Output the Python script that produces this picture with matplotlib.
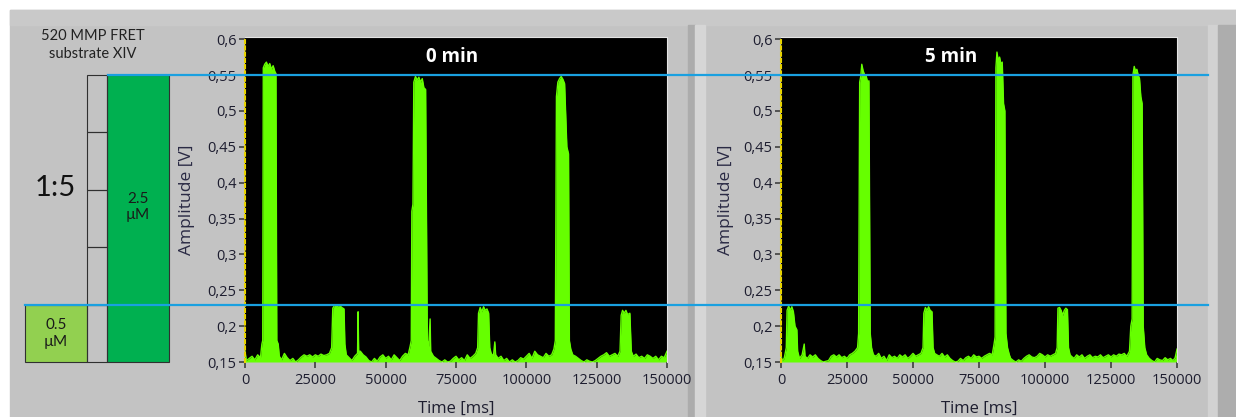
# FRET-signaal bij 0 en 5 minuten, met schema van de concentraties links

import matplotlib.pyplot as plt
from matplotlib.patches import Rectangle
from matplotlib.lines import Line2D
from matplotlib.transforms import blended_transform_factory

# Gegevens
panel_titles = ['0 min', '5 min']

t_0min = [0, 500, 1500, 2500, 3500, 4500, 5500, 6000, 6300, 6500, 7000, 7600, 8200, 8800, 9400,
          10000, 10600, 11000, 11300, 11800, 12200, 13000, 14000, 15000, 16000, 17000, 18000,
          19000, 20000, 21000, 22000, 23000, 24000, 25000, 26000, 27000, 28000, 29000, 30000,
          30800, 31200, 32000, 32800, 33600, 34400, 35200, 35500, 36000, 37000, 38000, 39000,
          40000, 40200, 40400, 41000, 42000, 43000, 44000, 45000, 46000, 47000, 48000, 49000,
          50000, 51000, 52000, 53000, 54000, 55000, 56000, 57000, 58000, 58700, 59100, 59300,
          59700, 60000, 60600, 61200, 61800, 62400, 63000, 63600, 64200, 64500, 64800, 65300,
          65800, 66000, 67000, 68000, 69000, 70000, 71000, 72000, 73000, 74000, 75000, 76000,
          77000, 78000, 79000, 80000, 81000, 82000, 82700, 83000, 83600, 84200, 84800, 85400,
          86000, 86600, 87000, 87500, 88300, 88800, 89100, 90000, 91000, 92000, 93000, 94000,
          95000, 96000, 97000, 98000, 99000, 100000, 101000, 102000, 103000, 104000, 105000,
          106000, 107000, 108000, 109000, 109800, 110300, 110700, 111200, 111800, 112400, 113000,
          113600, 114400, 115000, 115300, 115800, 116500, 117500, 118500, 119500, 120500, 121500,
          122500, 123500, 124500, 125500, 126500, 127500, 128500, 129500, 130500, 131500, 132500,
          133300, 133700, 134200, 134800, 135400, 136000, 136800, 137300, 138000, 139000, 140000,
          141000, 142000, 143000, 144000, 145000, 146000, 147000, 148000, 149000, 150000]
amp_0min = [0.165, 0.152, 0.155, 0.158, 0.153, 0.160, 0.156, 0.175, 0.180, 0.560, 0.565, 0.568, 0.562, 0.566, 0.558,
            0.563, 0.555, 0.552, 0.180, 0.175, 0.158, 0.153, 0.162, 0.156, 0.152, 0.155, 0.150,
            0.153, 0.157, 0.160, 0.158, 0.160, 0.157, 0.160, 0.158, 0.161, 0.159, 0.160, 0.162,
            0.170, 0.225, 0.230, 0.227, 0.229, 0.226, 0.224, 0.175, 0.160, 0.156, 0.152, 0.158,
            0.162, 0.220, 0.165, 0.165, 0.160, 0.157, 0.152, 0.150, 0.155, 0.151, 0.157, 0.160,
            0.155, 0.158, 0.153, 0.160, 0.156, 0.152, 0.158, 0.162, 0.160, 0.172, 0.180, 0.360,
            0.370, 0.540, 0.548, 0.543, 0.547, 0.540, 0.545, 0.532, 0.530, 0.360, 0.180, 0.172,
            0.210, 0.165, 0.158, 0.155, 0.152, 0.150, 0.153, 0.150, 0.151, 0.155, 0.158, 0.153,
            0.156, 0.152, 0.160, 0.155, 0.158, 0.162, 0.170, 0.218, 0.226, 0.220, 0.227, 0.222,
            0.224, 0.218, 0.170, 0.162, 0.158, 0.178, 0.160, 0.155, 0.158, 0.152, 0.155, 0.150,
            0.153, 0.150, 0.152, 0.156, 0.154, 0.158, 0.162, 0.155, 0.165, 0.160, 0.158,
            0.156, 0.162, 0.158, 0.160, 0.168, 0.180, 0.520, 0.540, 0.545, 0.548, 0.544,
            0.538, 0.450, 0.440, 0.180, 0.168, 0.160, 0.158, 0.155, 0.152, 0.150, 0.153,
            0.151, 0.150, 0.152, 0.155, 0.158, 0.160, 0.163, 0.158, 0.160, 0.162, 0.158,
            0.165, 0.215, 0.222, 0.218, 0.222, 0.216, 0.218, 0.165, 0.158, 0.161, 0.156,
            0.158, 0.155, 0.160, 0.158, 0.155, 0.158, 0.153, 0.158, 0.156, 0.165]

t_5min = [0, 400, 1200, 2000, 2300, 2900, 3500, 4100, 4700, 5300, 6000, 6300, 7000, 8000, 8800,
          9100, 10000, 11000, 12000, 13000, 14000, 15000, 16000, 17000, 18000, 19000, 20000,
          21000, 22000, 23000, 24000, 25000, 26000, 27000, 28000, 29000, 29400, 29800, 30200,
          30600, 31100, 31700, 32300, 32800, 33300, 33800, 34300, 35000, 36000, 37000, 38000,
          39000, 40000, 41000, 42000, 43000, 44000, 45000, 46000, 47000, 48000, 49000, 50000,
          51000, 52000, 53000, 53800, 54100, 54700, 55300, 55900, 56500, 57200, 57600, 58200,
          59000, 60000, 61000, 62000, 63000, 64000, 65000, 66000, 67000, 68000, 69000, 70000,
          71000, 72000, 73000, 74000, 75000, 76000, 77000, 78000, 79000, 80000, 80700, 81100,
          81400, 81800, 82300, 82800, 83300, 83800, 84300, 84800, 85200, 85800, 86500, 87000,
          88000, 89000, 90000, 91000, 92000, 93000, 94000, 95000, 96000, 97000, 98000, 99000,
          100000, 101000, 102000, 103000, 104000, 104600, 104900, 105500, 106100, 106700, 107300,
          107900, 108500, 108900, 109500, 110000, 111000, 112000, 113000, 114000, 115000, 116000,
          117000, 118000, 119000, 120000, 121000, 122000, 123000, 124000, 125000, 126000, 127000,
          128000, 129000, 130000, 131000, 132000, 132500, 133000, 133300, 133800, 134300, 134800,
          135300, 135800, 136300, 136800, 137200, 137800, 138500, 139500, 140500, 141500, 142500,
          143500, 144500, 145500, 146500, 147500, 148500, 149300, 150000]
amp_5min = [0.160, 0.152, 0.155, 0.170, 0.222, 0.228, 0.222, 0.227, 0.220, 0.200, 0.195, 0.165, 0.155, 0.160, 0.175,
            0.158, 0.155, 0.160, 0.157, 0.160, 0.155, 0.152, 0.150, 0.151, 0.152, 0.158, 0.160,
            0.157, 0.160, 0.156, 0.158, 0.155, 0.160, 0.162, 0.165, 0.170, 0.190, 0.540, 0.548,
            0.565, 0.556, 0.550, 0.548, 0.540, 0.542, 0.190, 0.170, 0.160, 0.158, 0.162, 0.155,
            0.158, 0.152, 0.160, 0.156, 0.158, 0.155, 0.160, 0.157, 0.160, 0.155, 0.158, 0.162,
            0.158, 0.160, 0.162, 0.170, 0.218, 0.226, 0.222, 0.227, 0.222, 0.220, 0.170, 0.162,
            0.160, 0.158, 0.162, 0.157, 0.160, 0.155, 0.152, 0.150, 0.151, 0.155, 0.152, 0.156,
            0.158, 0.155, 0.160, 0.157, 0.158, 0.155, 0.158, 0.160, 0.162, 0.160, 0.175, 0.185,
            0.560, 0.582, 0.570, 0.575, 0.565, 0.568, 0.510, 0.500, 0.190, 0.170, 0.160, 0.155,
            0.152, 0.150, 0.153, 0.151, 0.155, 0.158, 0.160, 0.157, 0.156, 0.158, 0.162, 0.160,
            0.157, 0.160, 0.158, 0.160, 0.162, 0.170, 0.225, 0.226, 0.222, 0.215, 0.222,
            0.225, 0.223, 0.170, 0.160, 0.158, 0.155, 0.160, 0.157, 0.160, 0.155, 0.158,
            0.160, 0.156, 0.158, 0.157, 0.160, 0.156, 0.158, 0.160, 0.157, 0.160, 0.158,
            0.161, 0.160, 0.162, 0.158, 0.165, 0.200, 0.210, 0.550, 0.562, 0.555, 0.558,
            0.550, 0.545, 0.520, 0.510, 0.200, 0.170, 0.160, 0.155, 0.152, 0.150, 0.155,
            0.153, 0.152, 0.156, 0.153, 0.155, 0.152, 0.156, 0.168]

x_ticks = [0, 25000, 50000, 75000, 100000, 125000, 150000]
y_ticks = [0.15, 0.2, 0.25, 0.3, 0.35, 0.4, 0.45, 0.5, 0.55, 0.6]

# schema: niveaus en concentraties
level_low = 0.23
level_high = 0.55
conc_low = '0.5\nµM'
conc_high = '2.5\nµM'
ratio_label = '1:5'
n_cells = 5
substrate = '520 MMP FRET\nsubstrate XIV'

W, H = 1236, 417
fig = plt.figure(figsize=(W / 100, H / 100), dpi=100, facecolor='white')

# achtergrond-assen in pixels (y naar beneden)
bg = fig.add_axes([0, 0, 1, 1], zorder=-5)
bg.set_xlim(0, W)
bg.set_ylim(H, 0)
bg.axis('off')
bg.add_patch(Rectangle((10, 10), W - 10, H - 10, color='#c3c3c3'))
bg.add_patch(Rectangle((10, 10), W - 10, 15, color='#c9c9c9'))
bg.add_patch(Rectangle((688, 25), 7, H - 25, color='#acacac'))
bg.add_patch(Rectangle((695, 25), 10, H - 25, color='#d6d6d6'))
bg.add_patch(Rectangle((1208, 25), 10, H - 25, color='#d2d2d2'))
bg.add_patch(Rectangle((1218, 25), 18, H - 25, color='#adadad'))

# plotassen (pixelposities)
def px_axes(x0, x1, y_top, y_bot):
    return fig.add_axes([x0 / W, (H - y_bot) / H, (x1 - x0) / W, (y_bot - y_top) / H])

ax1 = px_axes(245, 667, 37, 362)
ax2 = px_axes(781, 1177, 37, 362)

lime = '#66ff00'
txt = '#1e1e30'
for ax, t, a, title, tx in [(ax1, t_0min, amp_0min, panel_titles[0], 0.49),
                             (ax2, t_5min, amp_5min, panel_titles[1], 0.43)]:
    ax.set_facecolor('black')
    ax.fill_between(t, 0.15, a, color=lime, lw=0)
    ax.plot(t, a, color=lime, lw=1.0)
    ax.set_xlim(0, 150000)
    ax.set_ylim(0.15, 0.603)
    ax.set_xticks(x_ticks)
    ax.set_xticklabels([str(v) for v in x_ticks])
    ax.set_yticks(y_ticks)
    ax.set_yticklabels([('%g' % v).replace('.', ',') for v in y_ticks])
    ax.tick_params(axis='both', direction='out', length=4, width=1.2, color='#404040',
                   labelsize=10.5, labelcolor=txt)
    ax.tick_params(axis='y', pad=2)
    ax.tick_params(axis='x', pad=4)
    for lab in ax.get_xticklabels() + ax.get_yticklabels():
        lab.set_fontfamily('Open Sans')
    ax.spines['left'].set_color('#e8d400')
    ax.spines['left'].set_linestyle((0, (1.5, 1.5)))
    ax.spines['left'].set_linewidth(1.5)
    ax.spines['bottom'].set_visible(False)
    for s in ['top', 'right']:
        ax.spines[s].set_color('#e4e4e4')
        ax.spines[s].set_linewidth(0.8)
    ax.set_ylabel('Amplitude [V]', fontsize=12.5, color='#2a2a44', family='Open Sans')
    ax.yaxis.set_label_coords(-0.118, 0.5)
    ax.set_xlabel('Time [ms]', fontsize=12, color=txt, family='Open Sans')
    ax.xaxis.set_label_coords(0.5, -0.118)
    ax.text(tx, 0.938, title, transform=ax.transAxes, ha='center', va='center',
            color='white', fontsize=13.5, fontweight='bold', family='Open Sans')

# schema links: x in pixels, y in volt
tr = blended_transform_factory(bg.transData, ax1.transData)
bg.add_patch(Rectangle((25, 0.15), 62, level_low - 0.15, transform=tr,
                       facecolor='#92d050', edgecolor='#303030', lw=0.8))
bg.add_patch(Rectangle((107, 0.15), 62, level_high - 0.15, transform=tr,
                       facecolor='#00b050', edgecolor='#303030', lw=0.8))
cell = (level_high - 0.15) / n_cells
for i in range(n_cells):
    bg.add_patch(Rectangle((87, 0.15 + i * cell), 20, cell, transform=tr,
                           facecolor='none', edgecolor='#303030', lw=0.8))
bg.text(56, (0.15 + level_low) / 2, conc_low, transform=tr, ha='center', va='center',
        fontsize=11, color='#1a1a1a', family='Lato', linespacing=1.25)
bg.text(138, 0.366, conc_high, transform=tr, ha='center', va='center',
        fontsize=11, color='#1a1a1a', family='Lato', linespacing=1.25)
bg.text(55, 188, ratio_label, ha='center', va='center', fontsize=21, color='#111111',
        family='Lato')
bg.text(93, 45, substrate, ha='center', va='center', fontsize=10.5, color='#222222',
        family='Lato', linespacing=1.35)

# blauwe niveaulijnen over alles heen
tr_fig = blended_transform_factory(bg.transData, ax1.transData)
fig.add_artist(Line2D([108, 1208], [level_high, level_high], transform=tr_fig,
                      color='#1aa0e0', lw=1.6, zorder=20))
fig.add_artist(Line2D([25, 1208], [level_low, level_low], transform=tr_fig,
                      color='#1aa0e0', lw=1.6, zorder=20))

fig.savefig('out.png', dpi=100, facecolor='white')
